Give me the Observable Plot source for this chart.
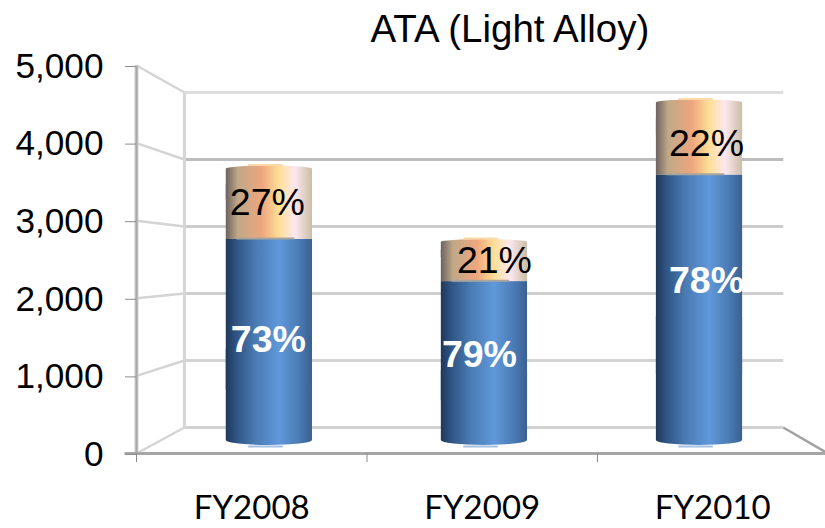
<!DOCTYPE html>
<html>
<head>
<meta charset="utf-8">
<style>html,body{margin:0;padding:0;background:#fff}svg{display:block}</style>
<script src="https://cdn.jsdelivr.net/npm/d3@7"></script>
<script src="https://cdn.jsdelivr.net/npm/@observablehq/plot@0.6"></script>
</head>
<body>
<script>
const title = "ATA (Light Alloy)";
const categories = ["FY2008", "FY2009", "FY2010"];
const lowerValues = [2780, 2197, 3668];
const totalValues = [3795, 2780, 4710];
const lowerLabels = ["73%", "79%", "78%"];
const upperLabels = ["27%", "21%", "22%"];
const yTicks = [0, 1000, 2000, 3000, 4000, 5000];
const gridColors = ["#d2d2d2", "#d4d4d4", "#cfcfcf", "#cccccc", "#bdbdbd", "#dedede"];

// Simple perspective: depth 0 is the front of the chart box, 1 the back wall.
const px = (x, d) => x * (1 - 0.134 * d) + 0.208 * d;
const py = (v, d) => v * (1 - 0.1366 * d) + 335 * d;
const barDepth = 0.5, barHalf = 0.187;

const rows = categories.map((name, i) => {
  const cx = px(i + 0.5, barDepth) + 0.006;
  return {
    name, i, x1: cx - barHalf, x2: cx + barHalf, cx,
    base: py(0, barDepth),
    lower: py(lowerValues[i], barDepth),
    total: py(totalValues[i], barDepth),
    lowerLabel: lowerLabels[i], upperLabel: upperLabels[i]
  };
});
const mid = (a, b) => (a + b) / 2;

function gradient(id, stops) {
  return () => {
    const defs = d3.create("svg:defs");
    const g = defs.append("linearGradient").attr("id", id);
    stops.forEach(([o, c]) => g.append("stop").attr("offset", o).attr("stop-color", c));
    return defs.node();
  };
}
const blueGrad = gradient("blueGrad", [[0, "#1f3858"], [0.12, "#2f5484"], [0.35, "#4a7cb4"], [0.62, "#6098da"], [0.85, "#4a7bb4"], [1, "#3a6090"]]);
const peachGrad = gradient("peachGrad", [[0, "#6c6260"], [0.14, "#c0a888"], [0.42, "#eea67e"], [0.62, "#ffdf96"], [0.8, "#fde8f0"], [1, "#cbbda6"]]);

const wall = (points, stroke, strokeWidth) => Plot.line(points, {
  x: p => px(p[0], p[2]), y: p => py(p[1], p[2]), stroke, strokeWidth, curve: "linear", strokeLinecap: "butt"
});

const label = (i, series, fill, fontWeight, dx, dy) => {
  const r = rows[i];
  return Plot.text([r], {
    x: "cx",
    y: series === "lower" ? mid(r.base, r.lower) : mid(r.lower, r.total),
    text: series === "lower" ? "lowerLabel" : "upperLabel",
    fill, fontWeight, fontSize: 37.5, dx, dy,
    fontFamily: "Liberation Sans", textAnchor: "middle", lineAnchor: "middle"
  });
};

const plot = Plot.plot({
  width: 825, height: 528,
  marginLeft: 136, marginRight: 0, marginTop: 65, marginBottom: 75,
  style: {background: "#fff", fontFamily: "Liberation Sans"},
  x: {domain: [0, 3], range: [136, 827.5], axis: null},
  y: {domain: [0, 5000], axis: null},
  marks: [
    blueGrad, peachGrad,
    // back wall gridlines and their diagonals
    ...yTicks.map((v, i) => wall([[0, v, 1], [3, v, 1]], gridColors[i], 3)),
    ...yTicks.map((v, i) => wall([[0, v, 0], [0, v, 1]], "#d4d4d4", 2.5)),
    wall([[0, 0, 1], [0, 5000, 1]], "#d6d6d6", 3),
    wall([[3, 0, 1], [3, 0, 0]], "#a2a2a2", 2.5),
    wall([[0, 0, 0], [0, 5000, 0]], "#d0d0d0", 4),
    wall([[0, 0, 0], [0, 5000, 0]], "#a8a8a8", 2),
    // cylinders: rounded end caps, with a flat body laid over their inner corners
    Plot.rect(rows, {x1: "x1", x2: "x2", y1: r => mid(r.lower, r.total), y2: "total", fill: "url(#peachGrad)", rx: 43, ry: 3}),
    Plot.rect(rows, {x1: "x1", x2: "x2", y1: "lower", y2: r => r.lower + (r.total - r.lower) * 0.75, fill: "url(#peachGrad)"}),
    Plot.rect(rows, {x1: "x1", x2: "x2", y1: "base", y2: r => mid(r.base, r.lower), fill: "url(#blueGrad)", rx: 43, ry: 5, dy: 5}),
    Plot.rect(rows, {x1: "x1", x2: "x2", y1: r => mid(r.base, mid(r.base, r.lower)), y2: "lower", fill: "url(#blueGrad)"}),
    Plot.ruleY(rows, {y: "total", x1: r => r.cx - 0.09, x2: r => r.cx + 0.06, stroke: "#fbd9aa", strokeWidth: 2, dy: -1}),
    Plot.ruleY(rows, {y: "lower", x1: r => r.cx - 0.14, x2: r => r.cx + 0.11, stroke: "#a8a59c", strokeWidth: 2, dy: -1}),
    Plot.ruleY(rows, {y: "base", x1: r => r.cx - 0.09, x2: r => r.cx + 0.06, stroke: "#a3c0e2", strokeWidth: 2, dy: 6}),
    // percentage labels
    label(0, "lower", "#fff", "bold", -1, 0),
    label(1, "lower", "#fff", "bold", -5, -6),
    label(2, "lower", "#fff", "bold", 7, -27),
    label(0, "upper", "#000", "normal", -2, 0),
    label(1, "upper", "#000", "normal", 10, 0),
    label(2, "upper", "#000", "normal", 7, 6),
    // front axes
    Plot.ruleY([0], {x1: -0.05, x2: 3, stroke: "#a6a6a6", strokeWidth: 3}),
    Plot.axisY({ticks: yTicks, tickFormat: d3.format(","), tickSize: 11, tickPadding: 22, dy: 1,
      fontSize: 35.2, stroke: "#8c8c8c", fill: "#000", label: null, tickStrokeWidth: 2, fontFamily: "Liberation Sans"}),
    Plot.axisX({ticks: [0, 1, 2, 3], tickSize: 9, tickFormat: () => "", stroke: "#8c8c8c", label: null}),
    Plot.text(categories, {x: (d, i) => i + 0.5, y: 0, text: d => d, fontSize: 33, dy: 55,
      fontFamily: "Lato", fill: "#000", lineAnchor: "middle"}),
    Plot.text([title], {x: 1.62, y: 5000, text: d => d, fontSize: 38.5, dy: -36,
      fontFamily: "Liberation Sans", fill: "#000", lineAnchor: "middle"})
  ]
});
document.body.appendChild(plot);
</script>
</body>
</html>
